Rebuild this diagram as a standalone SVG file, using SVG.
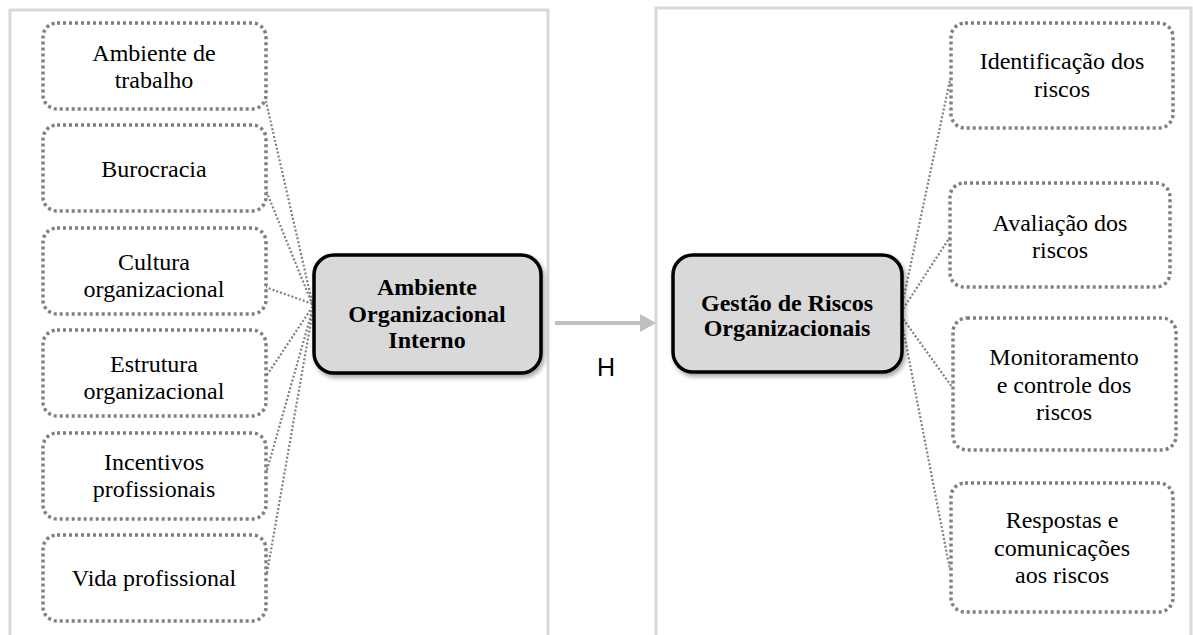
<svg xmlns="http://www.w3.org/2000/svg" width="1193" height="635" viewBox="0 0 1193 635">
<defs>
<style>
.panel{fill:none;stroke:#d9d9d9;stroke-width:3}
.sub{fill:#fff;stroke:#808080;stroke-width:3.5;stroke-dasharray:3 3}
.main{fill:#d9d9d9;stroke:#000;stroke-width:3.5}
.t{font-family:"Liberation Serif","Times New Roman",serif;font-size:24px;fill:#000;text-anchor:middle}
.b{font-weight:bold}
.con{fill:none;stroke:#808080;stroke-width:2.2;stroke-dasharray:2 2}
.arr{stroke:#bfbfbf;stroke-width:4}
</style>
<filter id="sh" x="-10%" y="-10%" width="125%" height="130%">
<feDropShadow dx="2" dy="3" stdDeviation="2" flood-color="#000" flood-opacity="0.35"/>
</filter>
</defs>
<rect class="panel" x="10" y="10" width="538" height="640"/>
<rect class="panel" x="656" y="8" width="535" height="640"/>
<g id="connectors">
<line class="con" x1="265" y1="97" x2="313" y2="306"/>
<line class="con" x1="265" y1="188" x2="313" y2="306"/>
<line class="con" x1="265" y1="287" x2="313" y2="304"/>
<line class="con" x1="267" y1="375" x2="313" y2="306"/>
<line class="con" x1="267" y1="470" x2="313" y2="308"/>
<line class="con" x1="267" y1="573" x2="313" y2="310"/>
<line class="con" x1="901" y1="310" x2="950" y2="80"/>
<line class="con" x1="901" y1="312" x2="950" y2="237"/>
<line class="con" x1="901" y1="316" x2="952" y2="387"/>
<line class="con" x1="901" y1="318" x2="950" y2="570"/>
<line class="arr" x1="555" y1="323" x2="642" y2="323"/>
<polygon points="640,314 656,323 640,332" fill="#bfbfbf"/>
</g>
<g id="n-ambiente-trabalho"><rect class="sub" x="43" y="23" width="223" height="86" rx="14"/><text class="t" x="154" y="61">Ambiente de</text><text class="t" x="154" y="88">trabalho</text></g>
<g id="n-burocracia"><rect class="sub" x="43" y="125" width="223" height="86" rx="14"/><text class="t" x="154" y="177">Burocracia</text></g>
<g id="n-cultura"><rect class="sub" x="43" y="228" width="223" height="86" rx="14"/><text class="t" x="154" y="270">Cultura</text><text class="t" x="154" y="297">organizacional</text></g>
<g id="n-estrutura"><rect class="sub" x="43" y="330" width="223" height="86" rx="14"/><text class="t" x="154" y="372">Estrutura</text><text class="t" x="154" y="399">organizacional</text></g>
<g id="n-incentivos"><rect class="sub" x="43" y="433" width="223" height="86" rx="14"/><text class="t" x="154" y="470">Incentivos</text><text class="t" x="154" y="497">profissionais</text></g>
<g id="n-vida"><rect class="sub" x="43" y="535" width="223" height="86" rx="14"/><text class="t" x="154" y="586">Vida profissional</text></g>
<g id="n-aoi"><rect class="main" x="314" y="255" width="227" height="118" rx="20" filter="url(#sh)"/><text class="t b" x="427" y="295">Ambiente</text><text class="t b" x="427" y="322">Organizacional</text><text class="t b" x="427" y="348">Interno</text></g>
<g id="n-h"><text x="606" y="376" font-family="Liberation Sans, Arial, sans-serif" font-size="25" text-anchor="middle">H</text></g>
<g id="n-gro"><rect class="main" x="673" y="255" width="229" height="117" rx="20" filter="url(#sh)"/><text class="t b" x="787" y="311">Gestão de Riscos</text><text class="t b" x="787" y="336">Organizacionais</text></g>
<g id="n-ident"><rect class="sub" x="951" y="23" width="222" height="105" rx="14"/><text class="t" x="1062" y="69">Identificação dos</text><text class="t" x="1062" y="97">riscos</text></g>
<g id="n-aval"><rect class="sub" x="950" y="183" width="220" height="104" rx="14"/><text class="t" x="1060" y="231">Avaliação dos</text><text class="t" x="1060" y="258">riscos</text></g>
<g id="n-monit"><rect class="sub" x="953" y="318" width="223" height="132" rx="14"/><text class="t" x="1064" y="365">Monitoramento</text><text class="t" x="1064" y="393">e controle dos</text><text class="t" x="1064" y="420">riscos</text></g>
<g id="n-resp"><rect class="sub" x="951" y="483" width="222" height="129" rx="14"/><text class="t" x="1062" y="528">Respostas e</text><text class="t" x="1062" y="556">comunicações</text><text class="t" x="1062" y="583">aos riscos</text></g>
</svg>
